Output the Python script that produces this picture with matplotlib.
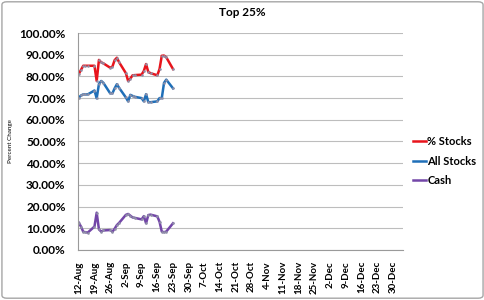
import matplotlib
matplotlib.use("Agg")
import matplotlib.pyplot as plt
import matplotlib.dates as mdates
from matplotlib.patches import FancyBboxPatch
from matplotlib.ticker import FuncFormatter
import pandas as pd
import numpy as np

# weekday closes, 12-Aug to 23-Sep
dates = pd.bdate_range("2013-08-12", "2013-09-23")

pct_stocks = [81.1, 83.0, 84.9, 84.9, 84.9,
              84.9, 77.9, 87.6, 86.5, 86.0,
              84.0, 84.5, 87.5, 88.6, 86.5,
              81.5, 77.9, 79.0, 80.5, 80.6,
              80.8, 82.5, 85.7, 82.0, 81.5,
              80.5, 83.4, 89.5, 89.6, 88.8,
              83.4]
all_stocks = [70.2, 71.2, 71.7, 71.7, 71.7,
              73.5, 69.9, 76.5, 77.9, 77.0,
              72.2, 72.2, 74.5, 76.4, 74.7,
              70.3, 68.5, 71.5, 71.0, 70.6,
              70.0, 68.5, 71.8, 68.1, 68.1,
              68.5, 70.0, 70.0, 77.0, 78.5,
              74.5]
cash = [12.6, 10.8, 8.4, 8.2, 8.0,
        10.8, 17.2, 9.5, 8.5, 9.0,
        9.2, 8.4, 9.8, 11.5, 12.5,
        16.2, 16.6, 15.8, 15.0, 14.8,
        14.1, 15.6, 12.3, 16.1, 16.3,
        15.5, 13.0, 8.5, 8.2, 8.5,
        12.3]

series = {"% Stocks": (pct_stocks, "#E8141C"),
          "All Stocks": (all_stocks, "#1F6FB8"),
          "Cash": (cash, "#7346A8")}

tick_dates = pd.date_range("2013-08-12", "2013-12-30", freq="7D")
y_ticks = np.arange(0, 101, 10)

plt.rcParams['font.family'] = ['Lato', 'DejaVu Sans']

fig = plt.figure(figsize=(4.85, 3.0), dpi=100)
ax = fig.add_axes([0.161, 0.1667, 0.67, 0.7233])

for name, (vals, col) in series.items():
    ax.plot(dates, vals, color=col, lw=1.8, label=name,
            marker='o', markersize=1.4, markerfacecolor='#9090A8',
            markeredgecolor='#9090A8', markeredgewidth=0.4)

ax.set_ylim(0, 100)
ax.set_yticks(y_ticks)
ax.yaxis.set_major_formatter(FuncFormatter(lambda v, p: f"{v:.2f}%"))
ax.set_xlim(pd.Timestamp("2013-08-12") - pd.Timedelta(hours=7),
            pd.Timestamp("2013-12-30") + pd.Timedelta(days=4.5))
ax.set_xticks(tick_dates)
ax.xaxis.set_major_formatter(FuncFormatter(
    lambda v, p: f"{mdates.num2date(v).day}-{mdates.num2date(v):%b}"))

ax.grid(axis='y', color='#BDBDBD', lw=0.8)
ax.set_axisbelow(True)
for s in ['top', 'right']:
    ax.spines[s].set_visible(False)
for s in ['left', 'bottom']:
    ax.spines[s].set_color('#9A9A9A')
ax.tick_params(axis='y', length=0, pad=9, labelsize=8.5)
ax.tick_params(axis='x', length=0, pad=8, labelsize=7, rotation=90)
for lbl in ax.get_yticklabels() + ax.get_xticklabels():
    lbl.set_fontweight('bold')

ax.set_ylabel("Percent Change", fontsize=4.5)
ax.yaxis.set_label_coords(-0.2, 0.5)
fig.suptitle("Top 25%", x=0.5, y=0.975, fontsize=8.5, fontweight='bold')

leg = ax.legend(loc='center left', bbox_to_anchor=(1.0, 0.41), frameon=False,
                handlelength=1.2, handletextpad=0.1, labelspacing=0.75,
                prop={'size': 8, 'weight': 'bold'})
for h in leg.legend_handles:
    h.set_marker('')

fig.patches.append(FancyBboxPatch((0.004, 0.006), 0.992, 0.988,
                                  boxstyle="round,pad=0,rounding_size=0.01",
                                  transform=fig.transFigure, fill=False,
                                  edgecolor='#A6A6A6', lw=1))

fig.savefig("out.png", dpi=100)
